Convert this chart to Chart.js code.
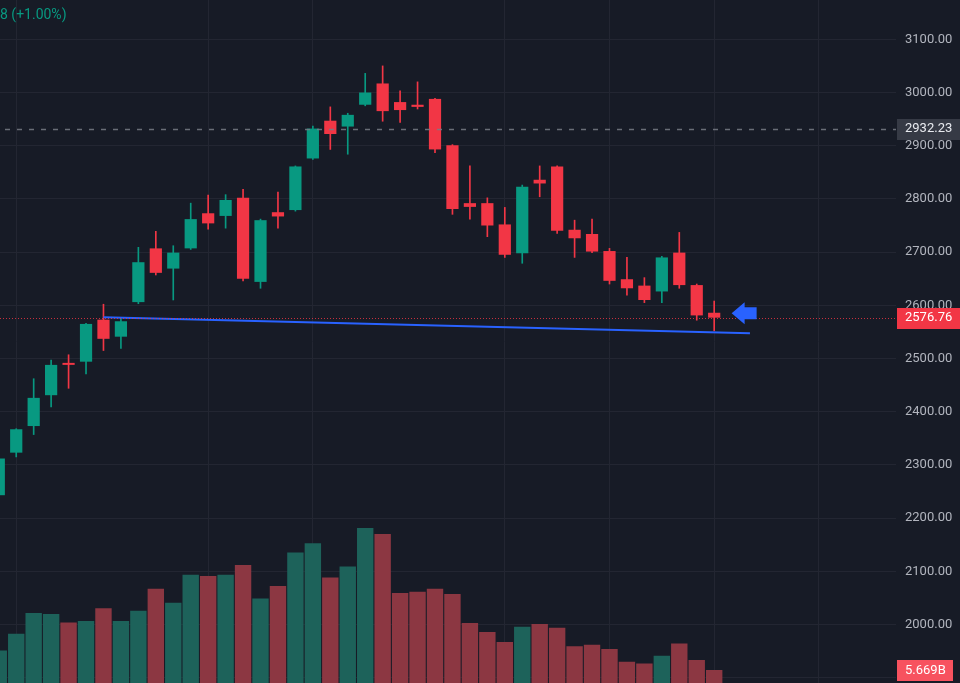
<!DOCTYPE html>
<html><head><meta charset="utf-8">
<script src="https://cdn.jsdelivr.net/npm/chart.js@4.4.1/dist/chart.umd.min.js"></script>
<style>html,body{margin:0;padding:0;background:#171b26;overflow:hidden}canvas{display:block}</style>
</head><body>
<canvas id="c" width="960" height="683"></canvas>
<script>
// ---- data ----
const candleIdx = [0,1,2,3,4,5,6,7,8,9,10,11,12,13,14,15,16,17,18,19,20,21,22,23,24,25,26,27,28,29,30,31,32,33,34,35,36,37,38,39,40,41];
const opens  = [2243,2323,2373,2431,2491,2494,2573,2541,2606,2707,2669,2707,2773,2768,2802,2644,2775,2779,2876,2947,2936,2977,3017,2982,2977,2988,2901,2792,2792,2752,2698,2836,2861,2742,2734,2702,2649,2637,2626,2699,2638,2586];
const highs  = [2318,2368,2462,2497,2507,2566,2602,2576,2709,2739,2712,2792,2807,2808,2818,2762,2813,2862,2937,2973,2961,3036,3050,3003,3020,2989,2902,2862,2802,2784,2826,2862,2862,2760,2762,2707,2690,2652,2692,2737,2640,2608];
const lows   = [2236,2315,2357,2409,2444,2471,2515,2519,2603,2657,2610,2705,2743,2745,2646,2632,2745,2777,2874,2893,2884,2975,2946,2944,2969,2887,2771,2762,2729,2690,2679,2804,2735,2690,2699,2640,2619,2605,2605,2632,2572,2552];
const closes = [2312,2367,2426,2488,2488,2565,2537,2570,2681,2661,2699,2762,2754,2798,2650,2760,2767,2861,2932.23,2922,2958,3000,2965,2967,2973,2893,2781,2785,2750,2695,2823,2829,2740,2726,2701,2646,2632,2610,2690,2638,2581,2576.76];
const volumesB = [6.68,7.54,8.61,8.56,8.12,8.20,8.85,8.20,8.73,9.86,9.14,10.58,10.52,10.58,11.08,9.35,10.00,11.73,12.20,10.44,11.01,12.99,12.68,9.64,9.71,9.86,9.59,8.09,7.63,7.11,7.90,8.04,7.85,6.89,6.97,6.75,6.10,6.01,6.41,7.03,6.19,5.669];
const priceTicks = [1900,2000,2100,2200,2300,2400,2500,2600,2700,2800,2900,3000,3100];
const timeGridIdx = [1,12,18,29,35,41,47];
const prevClose = 2932.23;
const lastPrice = 2576.76;
const lastVolumeLabel = '5.669B';
const headerText = '8 (+1.00%)';
const trendLine = [{x:6, y:2577.4},{x:43.05, y:2547.4}];
const arrowPoint = {x:42.0, y:2585};

// ---- view range ----
const xMin = 0.07, xMax = 51.42;
const yMin = 1890, yMax = 3173.9;
const volMin = 5.0, volMax = 40.21;

const UP = '#089981', DOWN = '#f23645';
const VUP = '#1d625a', VDOWN = '#8c3742';
const gridColor = '#232632';
const isUp = candleIdx.map(i => closes[i] >= opens[i]);

const overlay = {
  id: 'overlay',
  afterDatasetsDraw(chart) {
    const {ctx, chartArea: a, scales: {x, y}} = chart;
    ctx.save();
    ctx.beginPath(); ctx.rect(a.left, a.top, a.right - a.left, a.bottom - a.top); ctx.clip();
    const py = Math.round(y.getPixelForValue(prevClose)) + 0.5;
    ctx.strokeStyle = 'rgba(120,123,134,0.85)'; ctx.lineWidth = 1.5; ctx.setLineDash([5,7]);
    ctx.beginPath(); ctx.moveTo(a.left + 5, py); ctx.lineTo(a.right, py); ctx.stroke();
    const ly = Math.round(y.getPixelForValue(lastPrice)) + 0.5;
    ctx.strokeStyle = 'rgba(242,54,69,0.8)'; ctx.lineWidth = 1; ctx.setLineDash([1,2]);
    ctx.beginPath(); ctx.moveTo(a.left, ly); ctx.lineTo(a.right, ly); ctx.stroke();
    ctx.setLineDash([]);
    const ax = x.getPixelForValue(arrowPoint.x), ay = y.getPixelForValue(arrowPoint.y);
    ctx.fillStyle = '#2962ff';
    ctx.beginPath();
    ctx.moveTo(ax, ay);
    ctx.lineTo(ax + 13, ay - 11);
    ctx.lineTo(ax + 13, ay - 6);
    ctx.lineTo(ax + 25, ay - 6);
    ctx.lineTo(ax + 25, ay + 6);
    ctx.lineTo(ax + 13, ay + 6);
    ctx.lineTo(ax + 13, ay + 11);
    ctx.closePath(); ctx.fill();
    ctx.restore();
  },
  afterDraw(chart) {
    const {ctx, chartArea: a, scales: {y, vol}} = chart;
    ctx.save();
    ctx.font = '13px Roboto';
    ctx.textBaseline = 'middle';
    ctx.textAlign = 'left';
    function tag(py, text, bg, fg, w) {
      ctx.fillStyle = bg;
      ctx.fillRect(a.right + 1, Math.round(py) - 10, w, 21);
      ctx.fillStyle = fg;
      ctx.fillText(text, a.right + 9, py + 0.5);
    }
    tag(y.getPixelForValue(prevClose), prevClose.toFixed(2), '#363a45', '#e8eaef', 63);
    tag(y.getPixelForValue(lastPrice), lastPrice.toFixed(2), '#f23645', '#ffffff', 63);
    tag(vol.getPixelForValue(volumesB[volumesB.length - 1]), lastVolumeLabel, '#f7525f', '#ffffff', 56);
    ctx.font = '14px Roboto';
    ctx.fillStyle = UP;
    ctx.fillText(headerText, 0, 15);
    ctx.restore();
  }
};

new Chart(document.getElementById('c'), {
  type: 'bar',
  data: {
    datasets: [
      { type: 'line', order: 0, label: 'trend', data: trendLine, xAxisID: 'x', yAxisID: 'y',
        borderColor: '#2962ff', borderWidth: 2, pointRadius: 0, fill: false },
      { type: 'bar', order: 1, label: 'body', xAxisID: 'x', yAxisID: 'y',
        data: candleIdx.map(i => ({x: i, y: [opens[i], closes[i]]})),
        backgroundColor: candleIdx.map(i => isUp[i] ? UP : DOWN),
        barPercentage: 0.7, categoryPercentage: 1, grouped: false, minBarLength: 2, borderWidth: 0 },
      { type: 'bar', order: 2, label: 'wick', xAxisID: 'x', yAxisID: 'y',
        data: candleIdx.map(i => ({x: i, y: [lows[i], highs[i]]})),
        backgroundColor: candleIdx.map(i => isUp[i] ? UP : DOWN),
        barThickness: 1, grouped: false, borderWidth: 0 },
      { type: 'bar', order: 3, label: 'volume', xAxisID: 'x', yAxisID: 'vol',
        data: candleIdx.map(i => ({x: i, y: volumesB[i]})),
        backgroundColor: candleIdx.map(i => isUp[i] ? VUP : VDOWN),
        barPercentage: 0.94, categoryPercentage: 1, grouped: false, borderWidth: 0 }
    ]
  },
  options: {
    responsive: false, animation: false, devicePixelRatio: 1,
    layout: { padding: 0 },
    plugins: { legend: { display: false }, tooltip: { enabled: false } },
    scales: {
      x: { type: 'linear', min: xMin, max: xMax, offset: false,
        grid: { color: gridColor, drawTicks: false, offset: false },
        border: { display: false }, ticks: { display: false, padding: 0 },
        afterBuildTicks: s => { s.ticks = timeGridIdx.map(v => ({value: v})); },
        afterFit: s => { s.height = 0; s.paddingLeft = 0; s.paddingRight = 0; } },
      y: { type: 'linear', position: 'right', min: yMin, max: yMax,
        grid: { color: gridColor, drawTicks: false },
        border: { display: false },
        ticks: { color: '#b2b5be', font: { family: 'Roboto', size: 13 }, padding: 9, autoSkip: false,
          callback: v => Number(v).toFixed(2) },
        afterBuildTicks: s => { s.ticks = priceTicks.map(v => ({value: v})); },
        afterFit: s => { s.width = 64; s.paddingTop = 0; s.paddingBottom = 0; } },
      vol: { type: 'linear', display: false, min: volMin, max: volMax }
    }
  },
  plugins: [overlay]
});
</script>
</body></html>
